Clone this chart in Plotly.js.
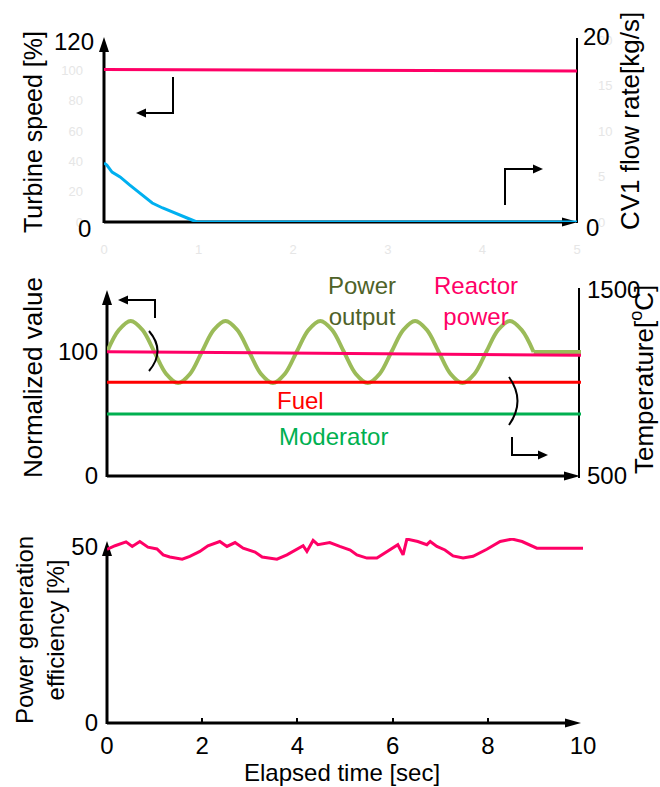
<!DOCTYPE html>
<html><head><meta charset="utf-8">
<script src="https://cdn.plot.ly/plotly-3.0.1.min.js"></script>
<style>html,body{margin:0;padding:0;background:#fff}#chart{width:660px;height:787px}</style>
</head><body><div id="chart"></div>
<script>
// ---------- data ----------
// Top panel (x: 0-5 s)
const turbineTime = [0, 2.5, 5];
const turbineSpeed = [100.5, 100, 99.5];            // %, left axis
const cv1Time = [0, 0.03, 0.085, 0.17, 0.27, 0.38, 0.51, 0.62, 0.73, 0.84, 0.93, 0.98, 5];
const cv1Flow = [6.48, 6.26, 5.49, 4.95, 4.07, 3.19, 2.09, 1.54, 1.10, 0.66, 0.22, 0, 0]; // kg/s, right axis
const topXTicks = [0, 1, 2, 3, 4, 5];
const topLeftTicks = [0, 20, 40, 60, 80, 100];
const topRightTicks = [0, 5, 10, 15, 20];

// Middle panel (x: 0-10 s)
const reactorTime = [0, 5, 10];
const reactorPower = [100.3, 98.8, 97.3];           // normalized
const powerTime = [0,0.25,0.5,0.75,1,1.25,1.5,1.75,2,2.25,2.5,2.75,3,3.25,3.5,3.75,4,4.25,4.5,4.75,5,5.25,5.5,5.75,6,6.25,6.5,6.75,7,7.25,7.5,7.75,8,8.25,8.5,8.75,9];
const powerOutput = [100,117.7,125,117.7,100,82.3,75,82.3,100,117.7,125,117.7,100,82.3,75,82.3,100,117.7,125,117.7,100,82.3,75,82.3,100,117.7,125,117.7,100,82.3,75,82.3,100,117.7,125,117.7,100];
const powerFlatTime = [9, 10];
const powerFlat = [100, 100];
const tempTime = [0, 10];
const fuelTemp = [1004, 1004];                      // degC, right axis
const moderatorTemp = [833, 833];                   // degC, right axis
const midLeftTicks = [0, 100];
const midRightTicks = [500, 1500];

// Bottom panel (x: 0-10 s)
const effTime = [0,0.17,0.40,0.53,0.69,0.86,1.05,1.18,1.32,1.58,1.74,1.95,2.12,2.37,2.52,2.69,2.86,3.11,3.26,3.57,3.78,4.01,4.12,4.20,4.33,4.43,4.58,4.68,4.89,5.11,5.25,5.46,5.67,5.84,6.05,6.11,6.22,6.30,6.53,6.72,6.79,6.93,7.10,7.27,7.48,7.69,7.98,8.26,8.51,8.72,9.03,10.0];
const efficiency = [49.3,50.3,51.4,50.1,51.5,49.9,49.4,47.7,47.1,46.5,47.3,48.7,50.3,51.5,50.1,51.2,49.6,48.5,47.1,46.5,47.7,49.6,50.3,48.7,51.8,50.6,51.0,51.2,50.1,49.1,47.7,46.8,46.8,48.2,50.1,50.6,47.7,52.2,51.5,50.6,51.5,50.1,49.1,47.4,46.8,47.3,49.3,51.5,52.2,51.5,49.6,49.6];
const bottomXTicks = [0, 2, 4, 6, 8, 10];
const bottomYTicks = [0, 50];

// ---------- styling ----------
const FONT = 'Liberation Sans, Arial, sans-serif';
const PINK = '#ff0066', BLUE = '#00b0f0', OLIVE = '#9bbb59', OLIVE_TXT = '#4f6228',
      RED = '#ff0000', GREEN = '#00b050', FAINT = '#e6e6e6';
const W = 660, H = 787;
const fx = p => p / W, fy = p => 1 - p / H;

const traces = [
  {x: turbineTime, y: turbineSpeed, xaxis: 'x', yaxis: 'y', mode: 'lines', line: {color: PINK, width: 3}},
  {x: cv1Time, y: cv1Flow, xaxis: 'x', yaxis: 'y2', mode: 'lines', line: {color: BLUE, width: 3}},
  {x: powerTime, y: powerOutput, xaxis: 'x2', yaxis: 'y3', mode: 'lines', line: {color: OLIVE, width: 4, shape: 'spline', smoothing: 1}},
  {x: powerFlatTime, y: powerFlat, xaxis: 'x2', yaxis: 'y3', mode: 'lines', line: {color: OLIVE, width: 4}},
  {x: reactorTime, y: reactorPower, xaxis: 'x2', yaxis: 'y3', mode: 'lines', line: {color: PINK, width: 3}},
  {x: tempTime, y: fuelTemp, xaxis: 'x2', yaxis: 'y4', mode: 'lines', line: {color: RED, width: 3}},
  {x: tempTime, y: moderatorTemp, xaxis: 'x2', yaxis: 'y4', mode: 'lines', line: {color: GREEN, width: 3}},
  {x: effTime, y: efficiency, xaxis: 'x3', yaxis: 'y5', mode: 'lines', line: {color: PINK, width: 3}}
];

const base = {showgrid: false, zeroline: false, showline: false, ticks: '', fixedrange: true};
const faintFont = {family: FONT, size: 13, color: FAINT};
const bigFont = {family: FONT, size: 24, color: '#000'};

// shapes helpers
function line(x0, y0, x1, y1, w) {
  return {type: 'line', xref: 'paper', yref: 'paper', x0: fx(x0), y0: fy(y0), x1: fx(x1), y1: fy(y1),
          line: {color: '#000', width: w}, layer: 'below'};
}
function tri(pts) {
  const p = pts.map((q, i) => (i ? 'L ' : 'M ') + fx(q[0]) + ' ' + fy(q[1])).join(' ') + ' Z';
  return {type: 'path', xref: 'paper', yref: 'paper', path: p, fillcolor: '#000', line: {width: 0}, layer: 'below'};
}
function up(x, tip, len, hw) { return tri([[x, tip], [x - hw, tip + len], [x + hw, tip + len]]); }
function right(y, tip, len, hw) { return tri([[tip, y], [tip - len, y - hw], [tip - len, y + hw]]); }
function left(y, tip, len, hw) { return tri([[tip, y], [tip + len, y - hw], [tip + len, y + hw]]); }
function bracket(x0, y0, cx, cy, x1, y1) {
  return {type: 'path', xref: 'paper', yref: 'paper',
          path: `M ${fx(x0)} ${fy(y0)} Q ${fx(cx)} ${fy(cy)} ${fx(x1)} ${fy(y1)}`,
          line: {color: '#000', width: 2}};
}

const shapes = [
  // top panel axes
  line(104, 223, 104, 50, 3), up(104, 37, 15, 5),
  line(104, 222, 565, 222, 3), right(222, 578, 16, 4.5),
  line(577, 38, 577, 223, 2),
  // top panel indicator arrows
  line(173, 77, 173, 114, 2), line(174, 113, 144, 113, 2), left(113, 136, 10, 4.5),
  line(505, 205, 505, 168, 2), line(504, 169, 535, 169, 2), right(169, 543, 10, 4.5),
  // middle panel axes
  line(107, 477, 107, 303, 3), up(107, 290, 15, 5),
  line(107, 476, 566, 476, 3), right(476, 580, 16, 4.5),
  line(579, 288, 579, 478, 2),
  // middle indicator arrows & brackets
  line(155, 318, 155, 299, 2), line(156, 300, 127, 300, 2), left(300, 118, 10, 4.5),
  line(512, 437, 512, 456, 2), line(511, 455, 540, 455, 2), right(455, 548, 10, 4.5),
  bracket(149, 331, 166, 351, 149, 371),
  bracket(509, 377, 526, 401, 509, 425),
  // bottom panel axes
  line(107, 724, 107, 554, 3), up(107, 541, 15, 5),
  line(107, 723, 567, 723, 3), right(723, 581, 16, 4.5)
];

function txt(text, x, y, opts) {
  return Object.assign({text: text, xref: 'paper', yref: 'paper', x: fx(x), y: fy(y), showarrow: false,
                        xanchor: 'center', yanchor: 'middle', font: Object.assign({}, bigFont)}, opts || {});
}

const annotations = [
  // top panel tick labels
  txt('120', 96, 41, {xanchor: 'right'}),
  txt('0', 93, 229, {xanchor: 'right'}),
  txt('20', 581, 37, {xanchor: 'left'}),
  txt('0', 584, 228, {xanchor: 'left'}),
  // titles
  txt('Turbine speed [%]', 33, 132, {textangle: -90, font: {family: FONT, size: 25, color: '#000'}}),
  txt('CV1 flow rate[kg/s]', 630, 121, {textangle: -90, font: {family: FONT, size: 26, color: '#000'}}),
  txt('Normalized value', 33, 378, {textangle: -90, font: {family: FONT, size: 26, color: '#000'}}),
  txt('Temperature[<sup>o</sup>C]', 642, 380, {textangle: -90, font: {family: FONT, size: 26, color: '#000'}}),
  txt('Power generation<br>efficiency [%]', 40, 630, {textangle: -90, font: {family: FONT, size: 24, color: '#000'}}),
  txt('Elapsed time [sec]', 342, 772, {font: {family: FONT, size: 24, color: '#000'}}),
  // series labels
  txt('Power<br>output', 362, 301, {font: {family: FONT, size: 24, color: OLIVE_TXT}}),
  txt('Reactor<br>power', 476, 301, {font: {family: FONT, size: 24, color: PINK}}),
  txt('Fuel', 300, 401, {font: {family: FONT, size: 24, color: RED}}),
  txt('Moderator', 333, 436, {font: {family: FONT, size: 24, color: GREEN}})
];

const layout = {
  width: W, height: H, margin: {l: 0, r: 0, t: 0, b: 0},
  paper_bgcolor: '#fff', plot_bgcolor: 'rgba(0,0,0,0)', showlegend: false,
  font: {family: FONT, size: 24, color: '#000'},
  xaxis: Object.assign({}, base, {domain: [fx(104), fx(577)], range: [0, 5], anchor: 'y',
          tickvals: topXTicks, tickfont: faintFont, ticklabelstandoff: 18}),
  yaxis: Object.assign({}, base, {domain: [fy(222), fy(40)], range: [0, 120], anchor: 'x',
          tickvals: topLeftTicks, tickfont: faintFont, ticklabelstandoff: 20}),
  yaxis2: Object.assign({}, base, {overlaying: 'y', side: 'right', anchor: 'x', range: [0, 20],
          tickvals: topRightTicks, tickfont: faintFont, ticklabelstandoff: 20}),
  xaxis2: Object.assign({}, base, {domain: [fx(107), fx(581)], range: [0, 10], anchor: 'y3', showticklabels: false}),
  yaxis3: Object.assign({}, base, {domain: [fy(476), fy(290)], range: [0, 150], anchor: 'x2',
          tickvals: midLeftTicks, tickfont: bigFont, ticklabelstandoff: 8}),
  yaxis4: Object.assign({}, base, {overlaying: 'y3', side: 'right', anchor: 'x2', range: [500, 1500],
          tickvals: midRightTicks, tickfont: bigFont, ticklabelstandoff: 5}),
  xaxis3: Object.assign({}, base, {domain: [fx(107), fx(583)], range: [0, 10], anchor: 'y5',
          tickvals: bottomXTicks, tickfont: bigFont, ticks: 'inside', ticklen: 5, tickwidth: 2, tickcolor: '#000',
          ticklabelstandoff: 6}),
  yaxis5: Object.assign({}, base, {domain: [fy(723), fy(538)], range: [0, 52.5], anchor: 'x3',
          tickvals: bottomYTicks, tickfont: bigFont, ticklabelstandoff: 8}),
  shapes: shapes,
  annotations: annotations
};

Plotly.newPlot('chart', traces, layout, {staticPlot: true, displayModeBar: false});
</script>
</body></html>
